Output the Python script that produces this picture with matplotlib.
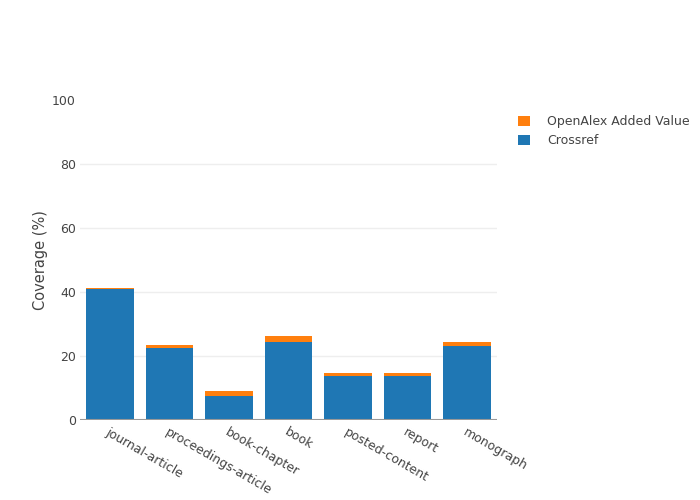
import numpy as np
import matplotlib.pyplot as plt

categories = ["journal-article", "proceedings-article", "book-chapter", "book",
              "posted-content", "report", "monograph"]
crossref = [40.8, 22.5, 7.4, 24.3, 13.6, 13.9, 23.0]
added = [0.3, 0.8, 1.6, 1.8, 1.2, 0.9, 1.5]

blue = "#1f77b4"
orange = "#ff7f0e"
txt = "#444444"

fig = plt.figure(figsize=(7, 5), dpi=100)
ax = fig.add_axes([80 / 700, 80 / 500, 417 / 700, 320 / 500])

x = np.arange(len(categories))
b1 = ax.bar(x, crossref, width=0.8, color=blue, label="Crossref", zorder=3)
b2 = ax.bar(x, added, width=0.8, bottom=crossref, color=orange,
            label="OpenAlex Added Value", zorder=3)

ax.set_xlim(-0.5, len(categories) - 0.5)
ax.set_ylim(0, 100)
ax.set_yticks([0, 20, 40, 60, 80, 100])
for g in [20, 40, 60, 80]:
    ax.axhline(g, color="#eeeeee", linewidth=1, zorder=0)
ax.axhline(0, color="#999999", linewidth=1.5, zorder=4)
for s in ax.spines.values():
    s.set_visible(False)
ax.tick_params(axis="both", length=0, labelsize=9, labelcolor=txt)
ax.tick_params(axis="y", pad=3)
ax.set_xticks(x)
ax.set_xticklabels(categories, rotation=-30, ha="left", rotation_mode="anchor")
ax.tick_params(axis="x", pad=4)
ax.set_ylabel("Coverage (%)", fontsize=10.5, color=txt, labelpad=3)

leg = fig.legend(handles=[b2, b1], labels=["OpenAlex Added Value", "Crossref"],
                 loc="upper left", bbox_to_anchor=(507 / 700, 1 - 104 / 500),
                 frameon=False, fontsize=9, handlelength=0.9, handleheight=0.9,
                 labelspacing=0.5, handletextpad=1.4)
for t in leg.get_texts():
    t.set_color(txt)

fig.savefig("out.png", dpi=100)
